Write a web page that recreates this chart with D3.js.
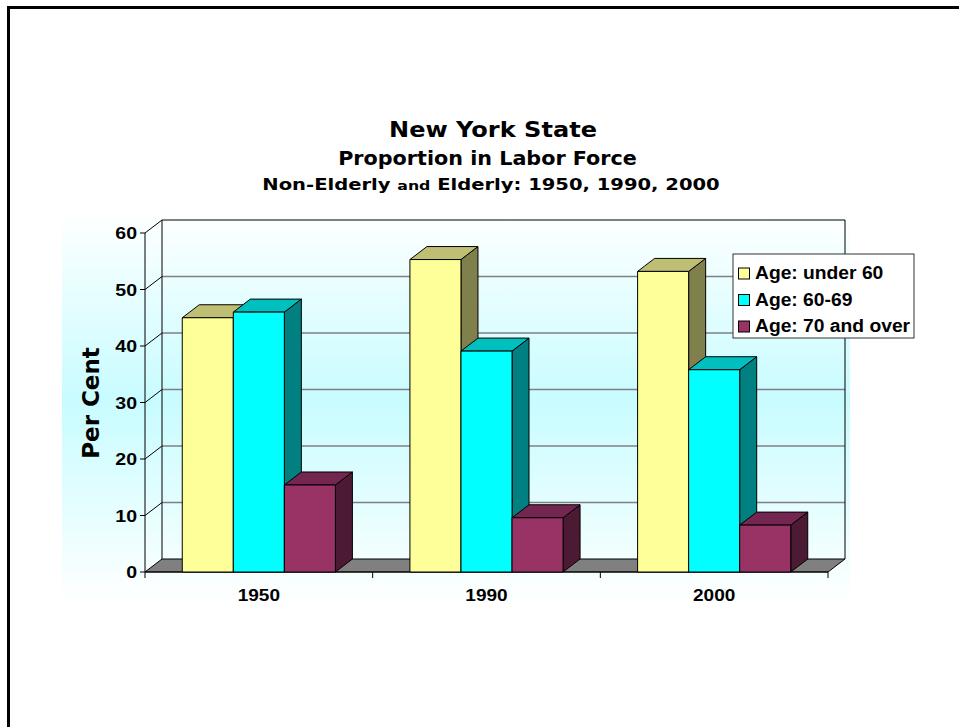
<!DOCTYPE html>
<html><head><meta charset="utf-8">
<script src="https://cdn.jsdelivr.net/npm/d3@7"></script>
<style>body{margin:0;background:#fff}</style>
</head><body><svg id="c" width="959" height="727"></svg>
<script>
const years = ["1950", "1990", "2000"];
const series = ["Age: under 60", "Age: 60-69", "Age: 70 and over"];
const under60 = [45.0, 55.3, 53.2];
const age6069 = [46.0, 39.1, 35.8];
const age70 = [15.4, 9.6, 8.3];
const yTicks = [0, 10, 20, 30, 40, 50, 60];
const values = [under60, age6069, age70];

const frontCol = ["#FFFF99", "#00FFFF", "#993366"];
const topCol = ["#BFBF73", "#00BFBF", "#732650"];
const sideCol = ["#80804D", "#008080", "#4D1A33"];

const svg = d3.select("#c");
const dx = 17, dy = -13;
const xL = 145, xR = 828;
const y = d3.scaleLinear().domain([0, 60]).range([572, 233]);
const x0 = d3.scaleBand().domain(years).range([xL, xR]);
const x1 = d3.scaleBand().domain(series).range([0, x0.bandwidth()]).paddingOuter(0.73);

function fitWidth(sel, target, cx, cy) {
  const w = sel.node().getBBox().width;
  const s = target / w;
  sel.attr("transform", `translate(${cx},${cy}) scale(${s},1)`);
}

// frame
svg.append("line").attr("x1", 7).attr("x2", 959).attr("y1", 7.5).attr("y2", 7.5).attr("stroke", "#000").attr("stroke-width", 3);
svg.append("line").attr("x1", 8.5).attr("x2", 8.5).attr("y1", 6).attr("y2", 727).attr("stroke", "#000").attr("stroke-width", 3);

// background gradient
const defs = svg.append("defs");
const g = defs.append("linearGradient").attr("id", "bg").attr("x1", 0).attr("x2", 0).attr("y1", 0).attr("y2", 1);
g.append("stop").attr("offset", "0%").attr("stop-color", "#ffffff");
g.append("stop").attr("offset", "48%").attr("stop-color", "#c8fcff");
g.append("stop").attr("offset", "100%").attr("stop-color", "#ffffff");
svg.append("rect").attr("x", 62).attr("y", 212).attr("width", 788).attr("height", 392).attr("fill", "url(#bg)");

// titles
const t1 = svg.append("text").attr("text-anchor", "middle").attr("font-family", "DejaVu Sans").attr("font-weight", "bold")
  .attr("font-size", 21).text("New York State");
fitWidth(t1, 208, 493, 137);
const t2 = svg.append("text").attr("text-anchor", "middle").attr("font-family", "DejaVu Sans").attr("font-weight", "bold")
  .attr("font-size", 19).text("Proportion in Labor Force");
fitWidth(t2, 299, 487.5, 165);
const t3 = svg.append("text").attr("text-anchor", "middle").attr("font-family", "DejaVu Sans").attr("font-weight", "bold")
  .attr("font-size", 15.5);
t3.append("tspan").text("Non-Elderly ");
t3.append("tspan").attr("font-size", 12.5).text("and");
t3.append("tspan").text(" Elderly: 1950, 1990, 2000");
fitWidth(t3, 458, 491, 190);

// walls
const tickLines = yTicks.filter(t => t > 0 && t < 60);
svg.selectAll(".grid").data(tickLines).enter().append("line")
  .attr("x1", xL + dx).attr("x2", xR + dx).attr("y1", d => y(d) + dy).attr("y2", d => y(d) + dy)
  .attr("stroke", "#808080").attr("stroke-width", 1.6);
svg.selectAll(".lgrid").data(tickLines).enter().append("line")
  .attr("x1", xL).attr("x2", xL + dx).attr("y1", d => y(d)).attr("y2", d => y(d) + dy)
  .attr("stroke", "#000").attr("stroke-width", 1);
svg.append("polyline").attr("points", [[xL, y(60)], [xL + dx, y(60) + dy], [xR + dx, y(60) + dy], [xR + dx, y(0) + dy]].join(" "))
  .attr("fill", "none").attr("stroke", "#000").attr("stroke-width", 1);
svg.append("line").attr("x1", xL + dx).attr("x2", xL + dx).attr("y1", y(60) + dy).attr("y2", y(0) + dy)
  .attr("stroke", "#000").attr("stroke-width", 1);
// floor
svg.append("polygon").attr("points", [[xL, y(0)], [xR, y(0)], [xR + dx, y(0) + dy], [xL + dx, y(0) + dy]].join(" "))
  .attr("fill", "#808080").attr("stroke", "#000").attr("stroke-width", 1);

// axes
svg.append("line").attr("x1", xL).attr("x2", xL).attr("y1", y(60)).attr("y2", y(0)).attr("stroke", "#000");
svg.selectAll(".yt").data(yTicks).enter().append("line")
  .attr("x1", xL - 5).attr("x2", xL).attr("y1", d => y(d)).attr("y2", d => y(d)).attr("stroke", "#000");
svg.selectAll(".yl").data(yTicks).enter().append("text")
  .attr("text-anchor", "end").attr("font-family", "Liberation Sans").attr("font-weight", "bold").attr("font-size", 17)
  .attr("transform", d => `translate(137,${y(d) + 6}) scale(1.15,1)`).text(d => d);
svg.append("line").attr("x1", xL).attr("x2", xR).attr("y1", y(0)).attr("y2", y(0)).attr("stroke", "#000");
const edges = years.map(d => x0(d)).concat([x0(years[years.length - 1]) + x0.bandwidth()]);
svg.selectAll(".xt").data(edges).enter().append("line")
  .attr("x1", d => d).attr("x2", d => d).attr("y1", y(0)).attr("y2", y(0) + 6).attr("stroke", "#000");
svg.selectAll(".xl").data(years).enter().append("text")
  .attr("text-anchor", "middle").attr("font-family", "Liberation Sans").attr("font-weight", "bold").attr("font-size", 17)
  .attr("transform", d => `translate(${x0(d) + x0.bandwidth() / 2},601) scale(1.12,1)`).text(d => d);

// y title
svg.append("text").attr("text-anchor", "middle").attr("font-family", "DejaVu Sans").attr("font-weight", "bold")
  .attr("font-size", 23).attr("transform", "translate(99,403) rotate(-90)").text("Per Cent");

// bars
years.forEach((yr, i) => {
  series.forEach((s, j) => {
    const v = values[j][i];
    const bx = x0(yr) + x1(s), w = x1.bandwidth(), top = y(v), bot = y(0);
    const gb = svg.append("g").attr("stroke", "#000").attr("stroke-width", 1).attr("stroke-linejoin", "round");
    gb.append("polygon").attr("points", [[bx + w, top], [bx + w + dx, top + dy], [bx + w + dx, bot + dy], [bx + w, bot]].join(" "))
      .attr("fill", sideCol[j]);
    gb.append("polygon").attr("points", [[bx, top], [bx + dx, top + dy], [bx + w + dx, top + dy], [bx + w, top]].join(" "))
      .attr("fill", topCol[j]);
    gb.append("rect").attr("x", bx).attr("y", top).attr("width", w).attr("height", bot - top).attr("fill", frontCol[j]);
  });
});

// legend
const lg = svg.append("g");
lg.append("rect").attr("x", 733).attr("y", 254).attr("width", 181).attr("height", 84)
  .attr("fill", "#fff").attr("stroke", "#333").attr("stroke-width", 1);
const rowY = [279, 305.5, 332];
series.forEach((s, j) => {
  lg.append("rect").attr("x", 738.5).attr("y", rowY[j] - 11).attr("width", 11).attr("height", 11)
    .attr("fill", frontCol[j]).attr("stroke", "#000");
  lg.append("text").attr("font-family", "Liberation Sans").attr("font-weight", "bold").attr("font-size", 18)
    .attr("transform", `translate(755,${rowY[j]}) scale(1.07,1)`).text(s);
});
</script></body></html>
